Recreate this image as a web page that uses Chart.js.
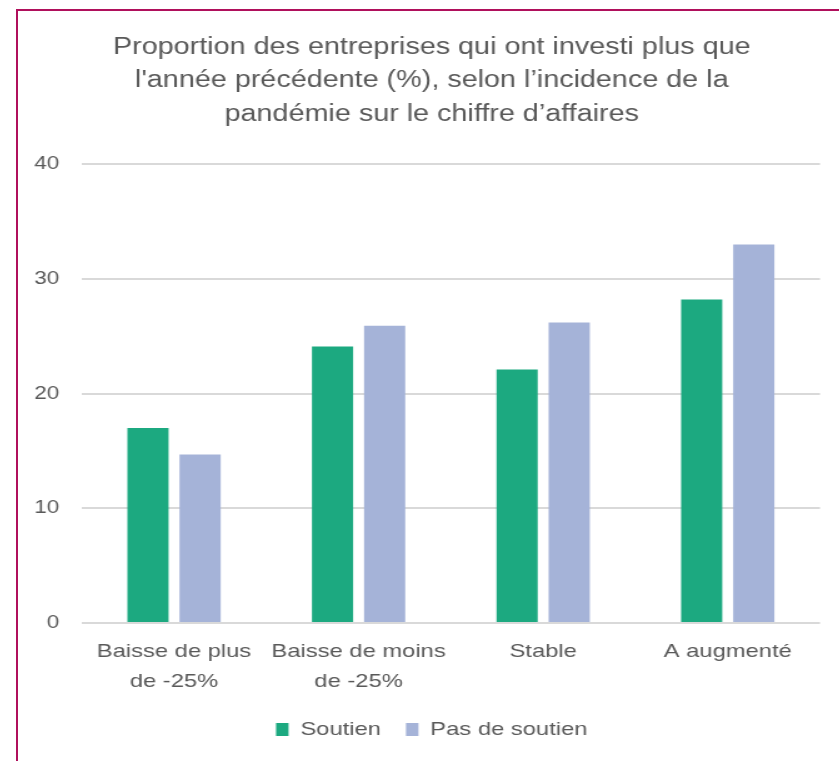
<!DOCTYPE html>
<html>
<head>
<meta charset="utf-8">
<script src="https://cdn.jsdelivr.net/npm/chart.js@4.4.1/dist/chart.umd.min.js"></script>
<style>
  html, body { margin: 0; padding: 0; background: #fff; overflow: hidden; }
  #frame {
    position: absolute; left: 16px; top: 9px;
    width: 840px; height: 770px;
    border: 2px solid #b0105c;
  }
  /* the reference text is drawn a bit wide, so the whole chart is stretched horizontally */
  #wrap {
    position: absolute; left: 18px; top: 11px;
    width: 657px; height: 750px;
    transform: scaleX(1.25); transform-origin: 0 0;
  }
</style>
</head>
<body>
<div id="frame"></div>
<div id="wrap"><canvas id="chart"></canvas></div>
<script>
const categories = [
  ["Baisse de plus", "de -25%"],
  ["Baisse de moins", "de -25%"],
  "Stable",
  "A augmenté",
];
const soutien = [17.0, 24.1, 22.1, 28.2];
const pasDeSoutien = [14.7, 25.9, 26.2, 33.0];
const yTicks = [0, 10, 20, 30, 40];

const textColor = "#595959";
const fontFamily = "'Liberation Sans', Arial, sans-serif";

const ctx = document.getElementById("chart").getContext("2d");

new Chart(ctx, {
  type: "bar",
  data: {
    labels: categories,
    datasets: [
      {
        label: "Soutien",
        data: soutien,
        backgroundColor: "#1ca980",
        barPercentage: 0.79,
        categoryPercentage: 0.565,
      },
      {
        label: "Pas de soutien",
        data: pasDeSoutien,
        backgroundColor: "#a5b3d8",
        barPercentage: 0.79,
        categoryPercentage: 0.565,
      },
    ],
  },
  options: {
    responsive: true,
    maintainAspectRatio: false,
    animation: false,
    layout: {
      padding: { left: 5, right: 0, top: 20, bottom: 12 },
    },
    scales: {
      x: {
        grid: { display: false },
        border: { display: false },
        afterFit: (axis) => {
          axis.height -= 2;
        },
        ticks: {
          color: textColor,
          font: { family: fontFamily, size: 19, lineHeight: 1.55 },
          maxRotation: 0,
          autoSkip: false,
          padding: 6,
        },
      },
      y: {
        min: 0,
        max: 40,
        afterBuildTicks: (axis) => {
          axis.ticks = yTicks.map((v) => ({ value: v }));
        },
        afterFit: (axis) => {
          axis.width = 46;
        },
        grid: { color: "#d9d9d9", lineWidth: 2, drawTicks: false },
        border: { display: false },
        ticks: {
          color: textColor,
          font: { family: fontFamily, size: 18 },
          padding: 18,
        },
      },
      // empty right-hand axis, only keeps a margin on the right of the plot
      yRight: {
        type: "linear",
        axis: "y",
        position: "right",
        grid: { display: false },
        border: { display: false },
        ticks: { display: false },
        afterFit: (axis) => {
          axis.width = 15.4;
        },
      },
    },
    plugins: {
      title: {
        display: true,
        text: [
          "Proportion des entreprises qui ont investi plus que",
          "l'année précédente (%), selon l’incidence de la",
          "pandémie sur le chiffre d’affaires",
        ],
        color: textColor,
        font: { family: fontFamily, size: 23, weight: "normal", lineHeight: 1.45 },
        padding: { top: 0, bottom: 33 },
      },
      legend: {
        position: "bottom",
        labels: {
          color: textColor,
          font: { family: fontFamily, size: 19 },
          boxWidth: 10,
          boxHeight: 13,
          padding: 20,
        },
      },
      tooltip: { enabled: false },
    },
  },
});
</script>
</body>
</html>
